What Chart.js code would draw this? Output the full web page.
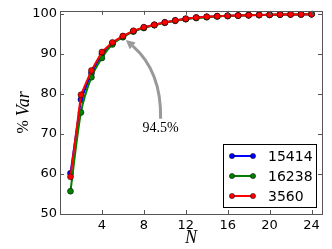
<!DOCTYPE html>
<html><head><meta charset="utf-8">
<script src="https://cdn.jsdelivr.net/npm/chart.js@4/dist/chart.umd.min.js"></script>
<style>html,body{margin:0;padding:0;background:#fff}#wrap{width:332px;height:249px}</style>
</head><body><div id="wrap"><canvas id="c" width="332" height="249"></canvas></div>
<script>
const N = [1,2,3,4,5,6,7,8,9,10,11,12,13,14,15,16,17,18,19,20,21,22,23,24];
const s15414 = [60.2,78.6,85.2,90.0,92.7,94.4,95.7,96.6,97.3,97.9,98.4,98.8,99.1,99.3,99.45,99.55,99.6,99.7,99.75,99.8,99.85,99.9,99.9,99.95];
const s16238 = [55.7,75.4,84.2,89.0,92.4,94.2,95.6,96.5,97.2,97.8,98.3,98.7,99.0,99.2,99.4,99.5,99.6,99.7,99.75,99.8,99.85,99.9,99.9,99.95];
const s3560  = [59.3,79.8,85.9,90.5,92.9,94.5,95.8,96.7,97.3,97.9,98.4,98.8,99.1,99.3,99.45,99.55,99.6,99.7,99.75,99.8,99.85,99.9,99.9,99.95];
const seriesLabels = ['15414','16238','3560'];
const seriesColors = ['#0000ff','#008000','#ff0000'];
const xTicks = [4,8,12,16,20,24];
const yTicks = [50,60,70,80,90,100];
const annot = {n: 6, v: 94.5, text: '94.5%', tx: 9.6, ty: 71.3};

function pts(arr){ return N.map((n,i)=>({x:n,y:arr[i]})); }
const all = [s15414, s16238, s3560];
const datasets = all.map((arr,i)=>({
  label: seriesLabels[i], data: pts(arr),
  borderColor: seriesColors[i], backgroundColor: seriesColors[i],
  borderWidth: 2, pointRadius: 3, pointBorderColor: '#000', pointBorderWidth: 0.5,
  pointBackgroundColor: seriesColors[i],
  tension: i===1 ? 0.25 : 0, order: 2-i
}));

const deco = {
  id: 'deco',
  afterDatasetsDraw(chart){
    const ctx = chart.ctx, a = chart.chartArea, xs = chart.scales.x, ys = chart.scales.y;
    ctx.save();
    // frame
    ctx.strokeStyle = '#555'; ctx.lineWidth = 1;
    ctx.strokeRect(Math.round(a.left)+0.5, Math.round(a.top)+0.5, Math.round(a.right-a.left), Math.round(a.bottom-a.top));
    // inward ticks
    ctx.beginPath();
    xTicks.forEach(t=>{ const px = Math.round(xs.getPixelForValue(t))+0.5;
      ctx.moveTo(px,a.bottom); ctx.lineTo(px,a.bottom-4); ctx.moveTo(px,a.top); ctx.lineTo(px,a.top+4); });
    yTicks.forEach(t=>{ const py = Math.round(ys.getPixelForValue(t))+0.5;
      ctx.moveTo(a.left,py); ctx.lineTo(a.left+4,py); ctx.moveTo(a.right,py); ctx.lineTo(a.right-4,py); });
    ctx.stroke();
    // annotation
    const ex = xs.getPixelForValue(annot.n)+3, ey = ys.getPixelForValue(annot.v)+4;
    const tx = xs.getPixelForValue(annot.tx), ty = ys.getPixelForValue(annot.ty);
    const sx = tx, sy = ty - 10;
    const mx = (sx+ex)/2, my = (sy+ey)/2;
    let dx = ex-sx, dy = ey-sy; const L = Math.hypot(dx,dy);
    const nx = -dy/L, ny = dx/L;
    const off = 20;
    const cx = mx + nx*off, cy = my + ny*off;
    // arrowhead direction
    let adx = ex-cx, ady = ey-cy; const al = Math.hypot(adx,ady); adx/=al; ady/=al;
    const hl = 9, hw = 4.5;
    const bx = ex - adx*hl, by = ey - ady*hl;
    ctx.strokeStyle = '#999'; ctx.fillStyle = '#999'; ctx.lineWidth = 3;
    ctx.beginPath(); ctx.moveTo(sx,sy); ctx.quadraticCurveTo(cx,cy,bx,by); ctx.stroke();
    ctx.beginPath(); ctx.moveTo(ex,ey); ctx.lineTo(bx - ady*hw, by + adx*hw); ctx.lineTo(bx + ady*hw, by - adx*hw); ctx.closePath(); ctx.fill();
    ctx.fillStyle = '#000'; ctx.font = '14px "Liberation Serif"'; ctx.textAlign = 'center'; ctx.textBaseline = 'middle';
    ctx.fillText(annot.text, tx, ty);
    // axis titles
    ctx.font = 'italic 18px "Liberation Serif"'; ctx.textBaseline = 'middle';
    ctx.fillText('N', (a.left+a.right)/2, 238);
    ctx.save(); ctx.translate(24,(a.top+a.bottom)/2); ctx.rotate(-Math.PI/2);
    ctx.font = '16px "Liberation Serif"'; const w1 = ctx.measureText('% ').width;
    ctx.font = 'italic 18px "Liberation Serif"'; const w2 = ctx.measureText('Var').width;
    const st = -(w1+w2)/2; ctx.textAlign = 'left';
    ctx.font = '16px "Liberation Serif"'; ctx.fillText('% ', st, 0);
    ctx.font = 'italic 18px "Liberation Serif"'; ctx.fillText('Var', st+w1, 0);
    ctx.restore();
    // legend
    const lx = 223.5, ly = 144.5, lw = 93, lh = 63;
    ctx.fillStyle = '#fff'; ctx.fillRect(lx,ly,lw,lh);
    ctx.strokeStyle = '#000'; ctx.lineWidth = 1; ctx.strokeRect(lx,ly,lw,lh);
    ctx.font = '14px "DejaVu Sans"'; ctx.textAlign = 'left'; ctx.textBaseline = 'middle';
    chart.data.datasets.forEach((d,i)=>{
      const y = 156 + i*20;
      ctx.strokeStyle = d.borderColor; ctx.lineWidth = 2;
      ctx.beginPath(); ctx.moveTo(232,y); ctx.lineTo(253,y); ctx.stroke();
      [232,253].forEach(px=>{ ctx.beginPath(); ctx.arc(px,y,2.6,0,Math.PI*2); ctx.fillStyle=d.borderColor; ctx.fill(); ctx.lineWidth=0.5; ctx.strokeStyle='#000'; ctx.stroke(); });
      ctx.fillStyle = '#000'; ctx.fillText(d.label, 268, y+1);
    });
    ctx.restore();
  }
};

new Chart(document.getElementById('c'), {
  type: 'line',
  data: { datasets },
  options: {
    responsive: false, animation: false,
    layout: { padding: { left: 0, right: 10, top: 10, bottom: 0 } },
    plugins: { legend: { display: false }, tooltip: { enabled: false } },
    scales: {
      x: { type: 'linear', min: 0, max: 25,
        afterBuildTicks(s){ s.ticks = xTicks.map(v=>({value:v})); },
        afterFit(s){ s.height = 35; },
        grid: { display: false, drawTicks: false }, border: { display: false },
        ticks: { color: '#000', font: { family: 'DejaVu Sans', size: 13 }, padding: 4, maxRotation: 0 } },
      y: { min: 50, max: 100.8,
        afterBuildTicks(s){ s.ticks = yTicks.map(v=>({value:v})); },
        afterFit(s){ s.width = 60; },
        grid: { display: false, drawTicks: false }, border: { display: false },
        ticks: { color: '#000', font: { family: 'DejaVu Sans', size: 13 }, padding: 3 } }
    }
  },
  plugins: [deco]
});
</script></body></html>
